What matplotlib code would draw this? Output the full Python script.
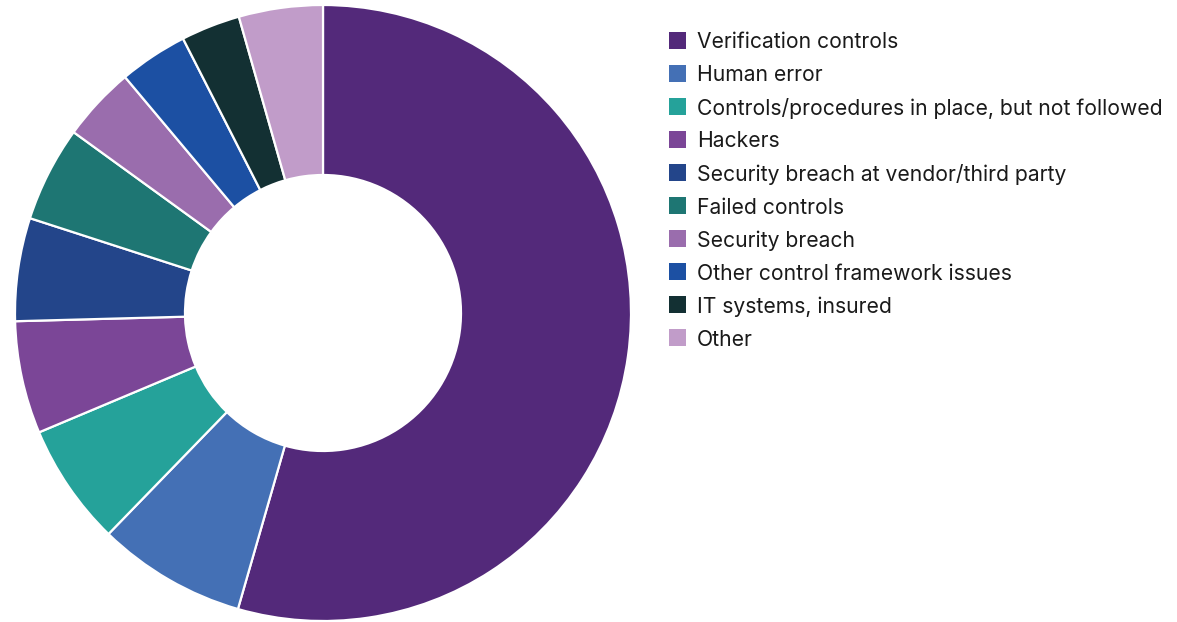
import matplotlib
matplotlib.use("Agg")
import matplotlib.pyplot as plt
from matplotlib.patches import Rectangle

categories = [
    "Verification controls",
    "Human error",
    "Controls/procedures in place, but not followed",
    "Hackers",
    "Security breach at vendor/third party",
    "Failed controls",
    "Security breach",
    "Other control framework issues",
    "IT systems, insured",
    "Other",
]
shares = [54.4, 7.8, 6.4, 5.9, 5.4, 5.0, 3.9, 3.6, 3.1, 4.4]
colors = [
    "#53297a", "#4470b5", "#25a29a", "#7b4697", "#23458a",
    "#1e7673", "#9a6dad", "#1c50a3", "#133033", "#c19cc9",
]

W, H = 1177, 622
fig = plt.figure(figsize=(W / 100, H / 100), dpi=100)
plt.rcParams["font.family"] = ["Inter", "DejaVu Sans"]

cx, cy, r = 323, 313, 308
ax = fig.add_axes([(cx - r) / W, (H - cy - r) / H, 2 * r / W, 2 * r / H])
ax.pie(
    shares,
    colors=colors,
    startangle=90,
    counterclock=False,
    radius=1.0,
    wedgeprops=dict(width=1 - 138 / 308, edgecolor="white", linewidth=1.6),
)
ax.set_xlim(-1.0, 1.0)
ax.set_ylim(-1.0, 1.0)
ax.set_aspect("equal")
ax.axis("off")

# legend rows
x_box, box = 669, 17
x_text = 697
y0, dy = 40, 33.1
for i, (lab, col) in enumerate(zip(categories, colors)):
    y = y0 + i * dy
    fig.patches.append(
        Rectangle(((x_box) / W, (H - y - box / 2) / H), box / W, box / H,
                  transform=fig.transFigure, facecolor=col, edgecolor="none")
    )
    fig.text(x_text / W, (H - y) / H, lab, fontsize=15.2, color="#1a1a1a",
             va="center_baseline", ha="left")

fig.savefig("out.png", dpi=100, facecolor="white")
